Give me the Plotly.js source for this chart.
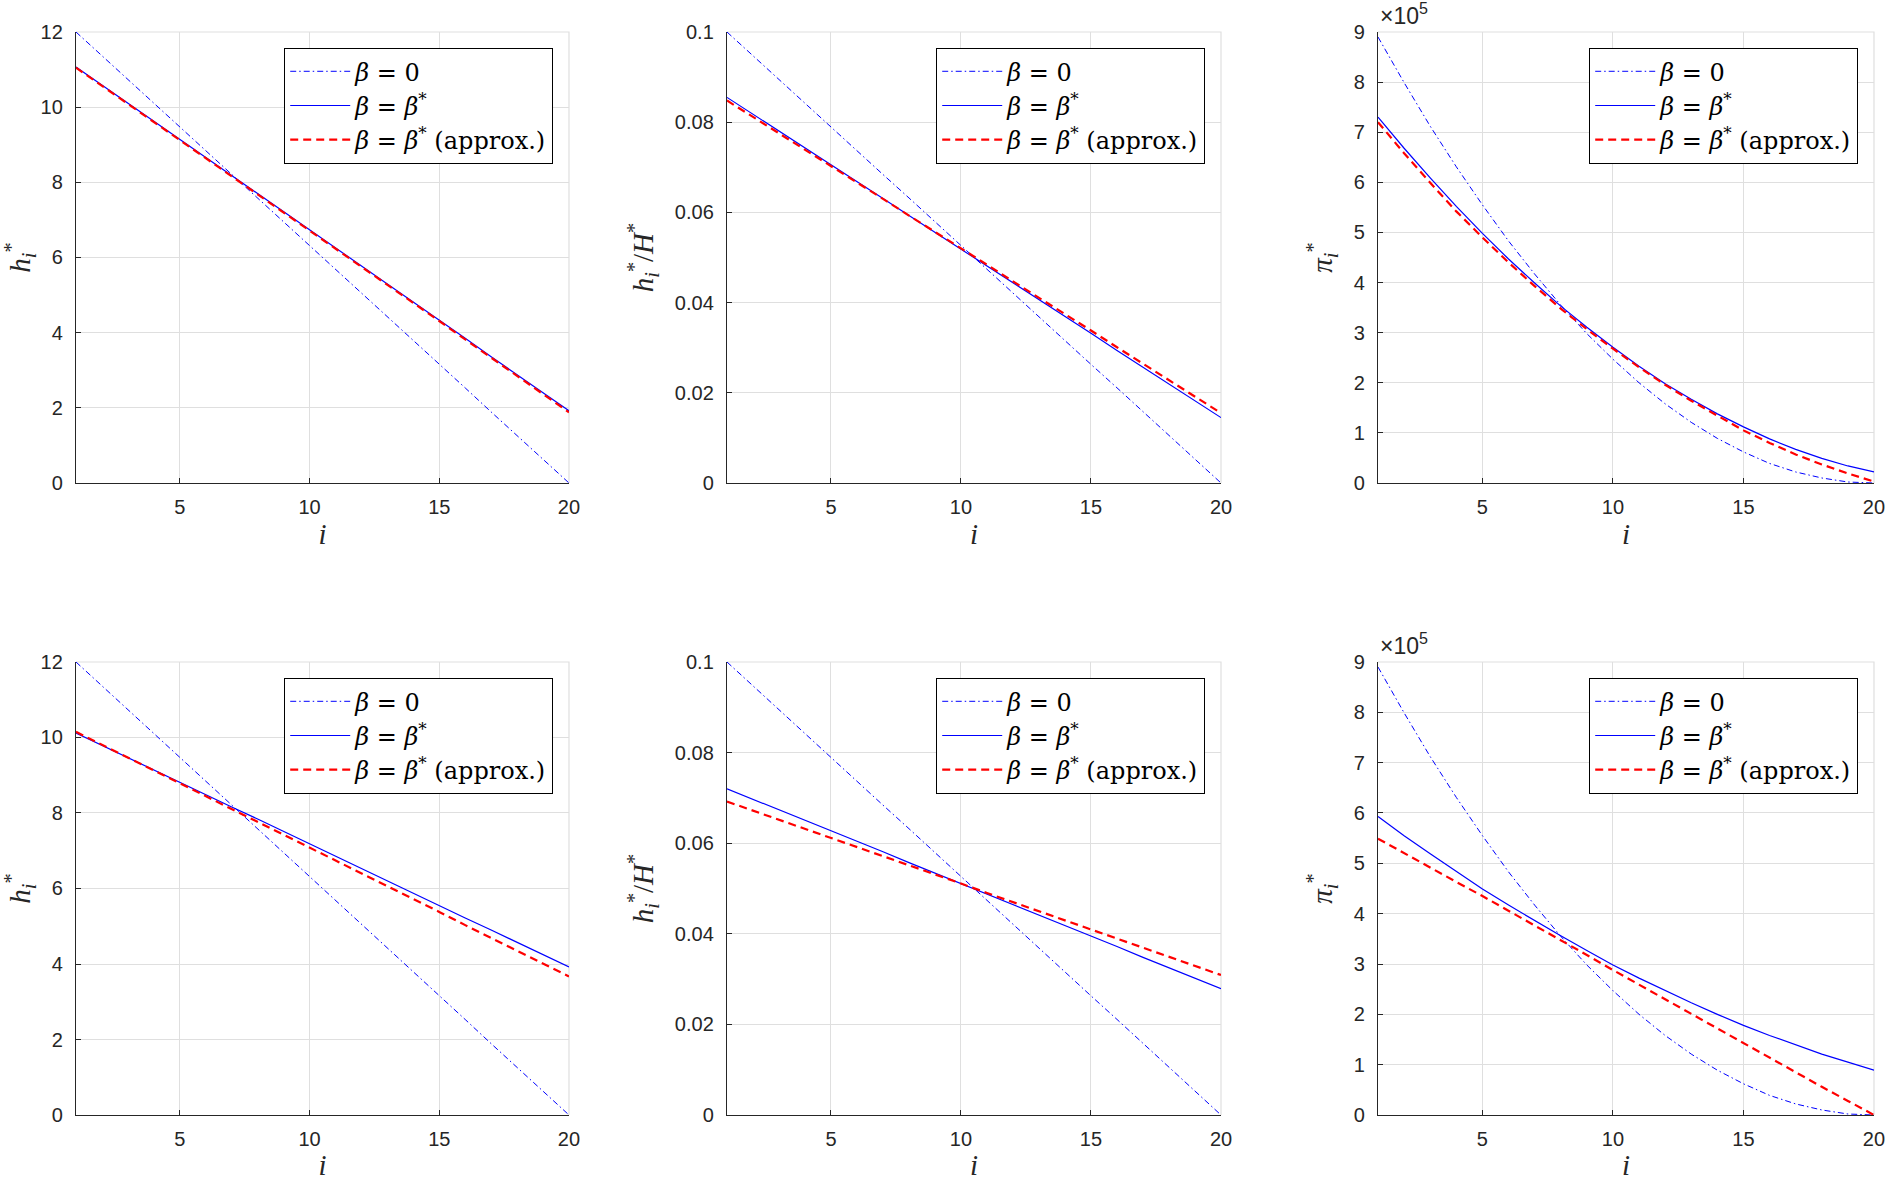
<!DOCTYPE html>
<html>
<head>
<meta charset="utf-8">
<script src="https://cdn.plot.ly/plotly-3.0.1.min.js"></script>
<style>
  html, body { margin: 0; padding: 0; background: #fff; }
  #gd { width: 1899px; height: 1181px; }
</style>
</head>
<body>
<div id="gd"></div>
<script>
// index i
const idx = [1, 2, 3, 4, 5, 6, 7, 8, 9, 10, 11, 12, 13, 14, 15, 16, 17, 18, 19, 20];

// ---- top row ----
const hZeroTop = [12.00, 11.37, 10.74, 10.11, 9.47, 8.84, 8.21, 7.58, 6.95, 6.32, 5.68, 5.05, 4.42, 3.79, 3.16, 2.53, 1.89, 1.26, 0.63, 0.00];
const hStarTop = [11.07, 10.59, 10.11, 9.63, 9.14, 8.66, 8.18, 7.70, 7.22, 6.74, 6.25, 5.77, 5.29, 4.81, 4.33, 3.85, 3.36, 2.88, 2.40, 1.92];
const hApproxTop = [11.05, 10.57, 10.09, 9.61, 9.13, 8.65, 8.17, 7.69, 7.21, 6.72, 6.24, 5.76, 5.27, 4.79, 4.31, 3.82, 3.34, 2.85, 2.37, 1.88];

const shareZeroTop = [0.1000, 0.0947, 0.0895, 0.0842, 0.0789, 0.0737, 0.0684, 0.0632, 0.0579, 0.0526, 0.0474, 0.0421, 0.0368, 0.0316, 0.0263, 0.0211, 0.0158, 0.0105, 0.0053, 0.0000];
const shareStarTop = [0.0855, 0.0818, 0.0780, 0.0743, 0.0705, 0.0668, 0.0631, 0.0593, 0.0556, 0.0519, 0.0481, 0.0444, 0.0406, 0.0369, 0.0332, 0.0294, 0.0257, 0.0220, 0.0182, 0.0145];
const shareApproxTop = [0.0848, 0.0812, 0.0775, 0.0739, 0.0702, 0.0666, 0.0630, 0.0593, 0.0557, 0.0520, 0.0484, 0.0447, 0.0411, 0.0374, 0.0338, 0.0301, 0.0265, 0.0228, 0.0192, 0.0155];

const piZeroTop = [890000, 799000, 712000, 631000, 555000, 483000, 417000, 355000, 298000, 247000, 200000, 158000, 121000, 89000, 62000, 39000, 22000, 10000, 2000, 0];
const piStarTop = [730000, 668000, 609000, 552000, 498000, 447000, 399000, 353000, 311000, 271000, 233000, 198000, 167000, 138000, 112000, 88000, 67000, 49000, 34000, 22000];
const piApproxTop = [720000, 658000, 599000, 542000, 490000, 440000, 393000, 348000, 307000, 268000, 231000, 196000, 164000, 134000, 105000, 80000, 57000, 37000, 19000, 3000];

// ---- bottom row ----
const hZeroBot = [12.00, 11.37, 10.74, 10.11, 9.47, 8.84, 8.21, 7.58, 6.95, 6.32, 5.68, 5.05, 4.42, 3.79, 3.16, 2.53, 1.89, 1.26, 0.63, 0.00];
const hStarBot = [10.12, 9.79, 9.47, 9.14, 8.81, 8.49, 8.16, 7.84, 7.51, 7.18, 6.86, 6.53, 6.20, 5.88, 5.55, 5.22, 4.90, 4.57, 4.25, 3.92];
const hApproxBot = [10.15, 9.81, 9.47, 9.13, 8.79, 8.44, 8.10, 7.76, 7.42, 7.08, 6.74, 6.40, 6.06, 5.72, 5.38, 5.03, 4.69, 4.35, 4.01, 3.67];

const shareZeroBot = [0.1000, 0.0947, 0.0895, 0.0842, 0.0789, 0.0737, 0.0684, 0.0632, 0.0579, 0.0526, 0.0474, 0.0421, 0.0368, 0.0316, 0.0263, 0.0211, 0.0158, 0.0105, 0.0053, 0.0000];
const shareStarBot = [0.0720, 0.0697, 0.0674, 0.0650, 0.0627, 0.0604, 0.0581, 0.0557, 0.0534, 0.0511, 0.0488, 0.0465, 0.0441, 0.0418, 0.0395, 0.0372, 0.0348, 0.0325, 0.0302, 0.0279];
const shareApproxBot = [0.0692, 0.0672, 0.0652, 0.0632, 0.0611, 0.0591, 0.0571, 0.0551, 0.0531, 0.0511, 0.0490, 0.0470, 0.0450, 0.0430, 0.0410, 0.0390, 0.0370, 0.0349, 0.0329, 0.0309];

const piZeroBot = [890000, 799000, 712000, 631000, 555000, 483000, 417000, 355000, 298000, 247000, 200000, 158000, 121000, 89000, 62000, 39000, 22000, 10000, 2000, 0];
const piStarBot = [593000, 555000, 519000, 484000, 449000, 417000, 386000, 356000, 327000, 298000, 272000, 247000, 223000, 200000, 178000, 158000, 139000, 121000, 105000, 89000];
const piApproxBot = [549000, 520000, 491000, 463000, 435000, 406000, 377000, 348000, 318000, 288000, 259000, 230000, 200000, 171000, 142000, 113000, 85000, 56000, 28000, 0];

// ticks
const xTicks = [5, 10, 15, 20];
const xTickText = ['5', '10', '15', '20'];
const hTicks = [0, 2, 4, 6, 8, 10, 12];
const hTickText = ['0', '2', '4', '6', '8', '10', '12'];
const shareTicks = [0, 0.02, 0.04, 0.06, 0.08, 0.1];
const shareTickText = ['0', '0.02', '0.04', '0.06', '0.08', '0.1'];
const piTicks = [0, 100000, 200000, 300000, 400000, 500000, 600000, 700000, 800000, 900000];
const piTickText = ['0', '1', '2', '3', '4', '5', '6', '7', '8', '9'];

const names = ['<i>β</i> = 0', '<i>β</i> = <i>β</i><sup>*</sup>', '<i>β</i> = <i>β</i><sup>*</sup> (approx.)'];

const panels = [
  {ys: [hZeroTop, hStarTop, hApproxTop]},
  {ys: [shareZeroTop, shareStarTop, shareApproxTop]},
  {ys: [piZeroTop, piStarTop, piApproxTop]},
  {ys: [hZeroBot, hStarBot, hApproxBot]},
  {ys: [shareZeroBot, shareStarBot, shareApproxBot]},
  {ys: [piZeroBot, piStarBot, piApproxBot]}
];

const styles = [
  {color: '#0000ff', width: 1, dash: '6px,3px,1.5px,3px'},
  {color: '#0000ff', width: 1.2, dash: 'solid'},
  {color: '#ff0000', width: 2.2, dash: '8px,5px'}
];

let data = [];
panels.forEach(function (p, k) {
  const n = k === 0 ? '' : String(k + 1);
  p.ys.forEach(function (y, j) {
    data.push({
      x: idx,
      y: y,
      name: names[j],
      type: 'scatter',
      mode: 'lines',
      line: styles[j],
      xaxis: 'x' + n,
      yaxis: 'y' + n,
      legend: 'legend' + n
    });
  });
});

const xDomains = [[0.04002, 0.29963], [0.38283, 0.64297], [0.72565, 0.98683]];
const yDomains = [[0.59103, 0.97290], [0.05588, 0.43946]];
const legendX = [0.29121, 0.63455, 0.97841];
const legendY = [0.95936, 0.42591];

const tickFont = {family: 'Liberation Sans, Arial, sans-serif', size: 20, color: '#262626'};
const titleFont = {family: 'Liberation Serif, DejaVu Serif, serif', size: 29, color: '#262626'};

const yTitles = [
  '<i>h</i><sub><i>i</i></sub><sup>*</sup>',
  '<i>h</i><sub><i>i</i></sub><sup>*</sup>/<i>H</i><sup>*</sup>',
  '<i>π</i><sub><i>i</i></sub><sup>*</sup>'
];
const yTickSets = [[hTicks, hTickText, [0, 12]], [shareTicks, shareTickText, [0, 0.1]], [piTicks, piTickText, [0, 900000]]];

let layout = {
  width: 1899,
  height: 1181,
  paper_bgcolor: '#ffffff',
  plot_bgcolor: '#ffffff',
  margin: {l: 0, r: 0, t: 0, b: 0},
  showlegend: true,
  annotations: [],
  shapes: []
};

for (let k = 0; k < 6; k++) {
  const n = k === 0 ? '' : String(k + 1);
  const col = k % 3;
  const row = Math.floor(k / 3);
  layout['xaxis' + n] = {
    domain: xDomains[col],
    anchor: 'y' + n,
    range: [1, 20],
    tickmode: 'array',
    tickvals: xTicks,
    ticktext: xTickText,
    ticks: 'inside',
    ticklen: 5,
    tickcolor: '#262626',
    showline: true,
    linecolor: '#262626',
    linewidth: 1.2,
    showgrid: true,
    gridcolor: '#dfdfdf',
    gridwidth: 1,
    zeroline: false,
    tickfont: tickFont,
    ticklabelstandoff: 6,
    title: {text: '<i>i</i>', font: titleFont, standoff: 2}
  };
  layout['yaxis' + n] = {
    domain: yDomains[row],
    anchor: 'x' + n,
    range: yTickSets[col][2],
    tickmode: 'array',
    tickvals: yTickSets[col][0],
    ticktext: yTickSets[col][1],
    ticks: 'inside',
    ticklen: 5,
    tickcolor: '#262626',
    showline: true,
    linecolor: '#262626',
    linewidth: 1.2,
    showgrid: true,
    gridcolor: '#dfdfdf',
    gridwidth: 1,
    zeroline: false,
    tickfont: tickFont,
    ticklabelstandoff: 8,
    title: {text: yTitles[col], font: titleFont, standoff: 12}
  };
  layout['legend' + n] = {
    x: legendX[col],
    y: legendY[row],
    xanchor: 'right',
    yanchor: 'top',
    xref: 'paper',
    yref: 'paper',
    bgcolor: '#ffffff',
    bordercolor: '#000000',
    borderwidth: 1.2,
    itemwidth: 60,
    tracegroupgap: 0,
    font: {family: 'DejaVu Serif, Liberation Serif, serif', size: 24, color: '#000000'}
  };
  // light box edges on the top and right, as in the reference
  layout.shapes.push({
    type: 'path', xref: 'x' + n + ' domain', yref: 'y' + n + ' domain',
    path: 'M0,1 L1,1 L1,0', line: {color: '#dfdfdf', width: 1.2}, layer: 'below'
  });
  if (col === 2) {
    layout.annotations.push({
      text: '×10<sup>5</sup>',
      xref: 'paper',
      yref: 'paper',
      x: xDomains[2][0],
      y: yDomains[row][1] + 0.001,
      xanchor: 'left',
      yanchor: 'bottom',
      showarrow: false,
      font: {family: 'Liberation Sans, Arial, sans-serif', size: 23, color: '#262626'}
    });
  }
}

let config = {staticPlot: true, displayModeBar: false};

Plotly.newPlot('gd', data, layout, config);
</script>
</body>
</html>
